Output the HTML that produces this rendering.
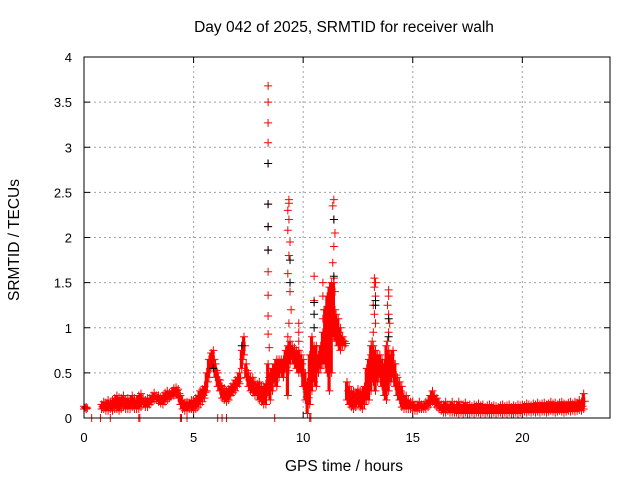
<!DOCTYPE html>
<html><head><meta charset="utf-8"><style>
body{margin:0;background:#fff}
svg{display:block;font-family:"Liberation Sans",sans-serif}
</style></head><body>
<svg id="chart" width="640" height="480" viewBox="0 0 640 480">
<text x="344" y="32" font-size="15.5" text-anchor="middle">Day 042 of 2025, SRMTID for receiver walh</text>
<text x="19" y="240" font-size="15.5" text-anchor="middle" transform="rotate(-90 19 240)">SRMTID / TECUs</text>
<text x="344" y="471" font-size="15.5" text-anchor="middle">GPS time / hours</text>
<g id="grid"></g><g id="ticks"></g><g id="marks"></g>
<rect x="84" y="57" width="526" height="361" fill="none" stroke="#000" stroke-width="1"/>
</svg>
<script>
const xTicks=[0,5,10,15,20];
const yTicks=[0,0.5,1,1.5,2,2.5,3,3.5,4];
const yTickLabels=["0","0.5","1","1.5","2","2.5","3","3.5","4"];
const startHour=0, stepHour=0.1;
const hiVals=[
0.13,0.12,null,null,null,null,null,null,0.15,0.18,
0.17,0.2,0.18,0.2,0.22,0.25,0.23,0.22,0.25,0.2,
0.22,0.2,0.25,0.22,0.2,0.25,0.27,0.22,0.2,0.22,
0.22,0.25,0.28,0.25,0.25,0.23,0.25,0.28,0.3,0.28,
0.3,0.33,0.34,0.32,0.25,0.2,0.17,0.18,0.17,0.2,
0.2,0.22,0.25,0.3,0.32,0.35,0.5,0.65,0.72,0.75,
0.6,0.5,0.42,0.35,0.33,0.3,0.32,0.35,0.38,0.42,
0.45,0.5,0.75,0.9,0.6,0.5,0.45,0.45,0.4,0.38,
0.4,0.35,0.35,0.38,0.6,0.5,0.55,0.6,0.65,0.65,
0.65,0.65,0.75,0.8,0.85,0.8,0.78,0.75,0.75,0.7,
0.65,0.5,0.4,0.7,0.9,0.8,0.8,0.7,0.8,0.95,
1.2,1.35,1.45,1.5,1.5,1.15,1.1,1.0,0.9,0.85,
0.4,0.35,0.3,0.3,0.28,0.32,0.3,0.3,0.35,0.55,
0.65,0.8,0.8,0.75,0.7,0.7,0.65,0.6,0.8,0.75,
0.7,0.75,0.6,0.45,0.4,0.35,0.25,0.25,0.2,0.18,
0.18,0.15,0.15,0.18,0.15,0.15,0.18,0.2,0.25,0.3,
0.25,0.22,0.18,0.15,0.15,0.18,0.15,0.15,0.18,0.15,
0.15,0.18,0.15,0.15,0.17,0.14,0.15,0.13,0.15,0.14,
0.16,0.14,0.15,0.12,0.14,0.15,0.13,0.14,0.13,0.12,
0.14,0.15,0.13,0.14,0.15,0.12,0.14,0.13,0.15,0.14,
0.15,0.14,0.16,0.15,0.14,0.16,0.15,0.17,0.15,0.16,
0.17,0.15,0.16,0.18,0.16,0.17,0.15,0.17,0.18,0.16,
0.15,0.17,0.18,0.16,0.18,0.17,0.2,0.18,0.27,null];
const loVals=[
0.1,0.1,null,null,null,null,null,null,0.1,0.1,
0.08,0.08,0.1,0.08,0.1,0.1,0.08,0.1,0.12,0.1,
0.1,0.1,0.12,0.1,0.1,0.1,0.12,0.15,0.12,0.12,
0.15,0.18,0.2,0.2,0.18,0.16,0.15,0.18,0.2,0.22,
0.24,0.25,0.27,0.22,0.15,0.1,0.08,0.08,0.1,0.1,
0.08,0.1,0.12,0.15,0.18,0.22,0.3,0.45,0.55,0.55,
0.45,0.35,0.3,0.22,0.2,0.18,0.2,0.25,0.28,0.3,
0.35,0.38,0.55,0.7,0.45,0.35,0.3,0.28,0.25,0.25,
0.2,0.18,0.15,0.15,0.3,0.2,0.3,0.4,0.35,0.45,
0.5,0.45,0.55,0.25,0.6,0.65,0.6,0.55,0.5,0.5,
0.35,0.2,0.05,0.15,0.3,0.4,0.35,0.5,0.55,0.6,
0.6,0.5,0.3,0.5,0.9,0.85,0.8,0.75,0.8,0.8,
0.2,0.15,0.12,0.1,0.12,0.15,0.12,0.1,0.15,0.2,
0.2,0.3,0.4,0.3,0.4,0.45,0.35,0.25,0.2,0.3,
0.4,0.45,0.35,0.25,0.2,0.12,0.1,0.1,0.1,0.1,
0.1,0.08,0.08,0.1,0.1,0.1,0.1,0.12,0.15,0.18,
0.15,0.12,0.1,0.08,0.06,0.06,0.08,0.06,0.06,0.06,
0.06,0.05,0.06,0.05,0.06,0.05,0.05,0.06,0.05,0.06,
0.06,0.05,0.06,0.05,0.06,0.05,0.05,0.06,0.05,0.06,
0.06,0.05,0.06,0.05,0.06,0.05,0.05,0.06,0.05,0.06,
0.06,0.07,0.06,0.07,0.06,0.07,0.06,0.07,0.06,0.07,
0.07,0.06,0.07,0.08,0.07,0.06,0.07,0.08,0.07,0.06,
0.07,0.08,0.07,0.08,0.07,0.08,0.09,0.08,0.1,null];
const spikeTimes=[8.4,8.4,8.4,8.4,8.4,8.4,8.4,8.4,8.4,8.4,8.4,8.4,8.45,
9.35,9.35,9.3,9.35,9.3,9.4,9.35,9.3,9.4,9.45,9.35,9.3,
11.4,11.35,11.4,11.45,11.4,11.35,11.4,11.45,
13.25,13.3,13.25,13.3,13.2,13.25,13.3,13.2,13.15,13.1,
13.9,13.9,13.85,13.9,13.95,13.9,13.85,
10.5,10.5,9.8,9.8,9.8,10.9,10.9,10.95,10.9];
const spikeVals=[3.68,3.5,3.27,3.05,2.82,2.37,2.12,1.86,1.62,1.36,1.13,0.93,0.78,
2.42,2.38,2.3,2.2,2.08,1.95,1.8,1.6,1.4,1.2,1.05,0.9,
2.42,2.35,2.2,2.05,1.9,1.72,1.55,1.4,
1.55,1.5,1.45,1.35,1.25,1.15,1.05,0.95,0.85,0.7,
1.42,1.35,1.25,1.15,1.05,0.95,0.85,
1.57,1.3,1.05,0.95,0.85,1.5,1.35,1.2,1.1];
const blackTimes=[8.4,8.4,8.4,8.4,9.4,9.4,10.5,10.5,10.5,11.4,11.4,13.3,13.3,13.9,13.9,5.9,7.2];
const blackVals=[2.82,2.37,2.12,1.86,1.5,1.75,1.28,1.15,1.0,2.2,1.57,1.25,1.3,1.1,0.9,0.55,0.8];
const zeroTimes=[0.35,0.75,1.2,2.5,2.55,4.4,4.45,4.7,6.1,6.3,6.5,8.7,10.3,10.35];

const X0=84,X1=610,Y0=418,Y1=57;
const xs=h=>X0+(h/24)*(X1-X0);
const ys=v=>Y0-(v/4)*(Y0-Y1);
const NS="http://www.w3.org/2000/svg";
function mk(tag,attrs,parent){const e=document.createElementNS(NS,tag);for(const k in attrs)e.setAttribute(k,attrs[k]);parent.appendChild(e);return e;}
const grid=document.getElementById('grid'),ticks=document.getElementById('ticks'),marks=document.getElementById('marks');
xTicks.forEach(t=>{
 const x=xs(t);
 if(t>0){const g=mk('line',{x1:x,y1:Y0,x2:x,y2:Y1,stroke:'#a0a0a0','stroke-dasharray':'2,3'},grid);
 
 }
 mk('line',{x1:x,y1:Y0,x2:x,y2:Y0-6,stroke:'#000'},ticks);
 mk('line',{x1:x,y1:Y1,x2:x,y2:Y1+6,stroke:'#000'},ticks);
 const l=mk('text',{x:x,y:442,'font-size':13,'text-anchor':'middle'},ticks);l.textContent=t;
 
 
});
yTicks.forEach((t,i)=>{
 const y=ys(t);
 if(t>0&&t<4){const g=mk('line',{x1:X0,y1:y,x2:X1,y2:y,stroke:'#a0a0a0','stroke-dasharray':'2,3'},grid);
 
 }
 mk('line',{x1:X0,y1:y,x2:X0+6,y2:y,stroke:'#000'},ticks);
 mk('line',{x1:X1,y1:y,x2:X1-6,y2:y,stroke:'#000'},ticks);
 const l=mk('text',{x:72,y:y+5,'font-size':13,'text-anchor':'end'},ticks);l.textContent=yTickLabels[i];
 
 
});
function cross(h,v,col){
 const x=xs(h),y=ys(v);
 const p=mk('path',{d:`M${x-4},${y}h8M${x},${y-4}v8`,stroke:col,'stroke-width':1,fill:'none'},marks);
 
 
}
hiVals.forEach((hv,i)=>{
 const lv=loVals[i];if(hv==null||lv==null)return;
 const h=startHour+i*stepHour;
 const r=mk('rect',{x:xs(h)-2,y:ys(hv),width:xs(stepHour)-X0+1,height:Math.max(0,ys(lv)-ys(hv)),fill:'#f00'},marks);
 
 
 cross(h,hv,'#f00');cross(h,lv,'#f00');
 cross(h+stepHour/2,(hv+lv)/2,'#f00');
});
spikeTimes.forEach((h,i)=>cross(h,spikeVals[i],'#f00'));
blackTimes.forEach((h,i)=>cross(h,blackVals[i],'#000'));
zeroTimes.forEach(h=>cross(h,0,'#f00'));
</script>
</body></html>
